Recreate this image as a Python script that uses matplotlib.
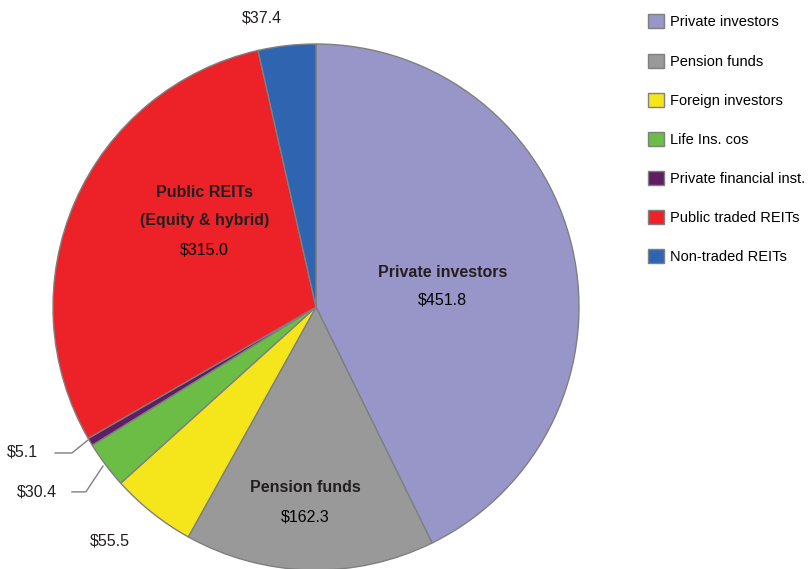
import matplotlib
matplotlib.use("Agg")
import matplotlib.pyplot as plt
from matplotlib.patches import Patch

# --------------------------------------
# Data
# --------------------------------------
categories = ["Private investors", "Pension funds", "Foreign investors", "Life Ins. cos",
              "Private financial inst.", "Public traded REITs", "Non-traded REITs"]
values = [451.8, 162.3, 55.5, 30.4, 5.1, 315.0, 37.4]
colors = ["#9896C9", "#999999", "#F5E61C", "#6BBD45", "#5F1E61", "#EC2228", "#2E64B0"]

sans = ["Liberation Sans", "DejaVu Sans"]

fig = plt.figure(figsize=(8.12, 5.69), dpi=100)
# pie centre ~ (316, 307) px, radius ~ 263 px
ax = fig.add_axes([(316 - 263) / 812, (569 - 307 - 263) / 569, 526 / 812, 526 / 569])

wedges, _ = ax.pie(values, colors=colors, startangle=90, counterclock=False,
                   radius=1.0, wedgeprops=dict(edgecolor="#7f7f7f", linewidth=1.0))
ax.set_xlim(-1, 1)
ax.set_ylim(-1, 1)
ax.set_aspect("equal")
ax.axis("off")

# --------------------------------------
# Labels inside slices
# --------------------------------------
bold = dict(ha="center", va="center", fontsize=11.5, fontweight="bold", family=sans, color="#231f20")
num = dict(ha="center", va="center", fontsize=11.5, family=sans, color="#000000")

ax.text(0.48, 0.133, "Private investors", **bold)
ax.text(0.48, 0.025, "$451.8", **num)

ax.text(-0.425, 0.437, "Public REITs", **bold)
ax.text(-0.425, 0.327, "(Equity & hybrid)", **bold)
ax.text(-0.425, 0.217, "$315.0", **num)

ax.text(-0.04, -0.687, "Pension funds", **bold)
ax.text(-0.04, -0.80, "$162.3", **num)

# --------------------------------------
# Outside labels
# --------------------------------------
out = dict(va="center", fontsize=11.5, family=sans, color="#231f20", clip_on=False)
ax.text(-0.205, 1.099, "$37.4", ha="center", **out)
ax.text(-0.783, -0.89, "$55.5", ha="center", **out)
ax.text(-1.057, -0.551, "$5.1", ha="right", **out)
ax.text(-0.985, -0.703, "$30.4", ha="right", **out)

# leader lines
ax.plot([-0.992, -0.928, -0.867], [-0.555, -0.555, -0.506], color="#7f7f7f", lw=1, clip_on=False)
ax.plot([-0.928, -0.875, -0.81], [-0.703, -0.703, -0.605], color="#7f7f7f", lw=1, clip_on=False)

# --------------------------------------
# Legend
# --------------------------------------
handles = [Patch(facecolor=c, edgecolor="#7f7f7f", linewidth=1) for c in colors]
fig.legend(handles, categories, loc="upper left", bbox_to_anchor=(0.787, 0.990),
           frameon=False, prop={"family": sans, "size": 10.5},
           handlelength=1.1, handleheight=1.1, handletextpad=0.4,
           labelspacing=1.66, borderaxespad=0.2)

fig.savefig("out.png", dpi=100)
